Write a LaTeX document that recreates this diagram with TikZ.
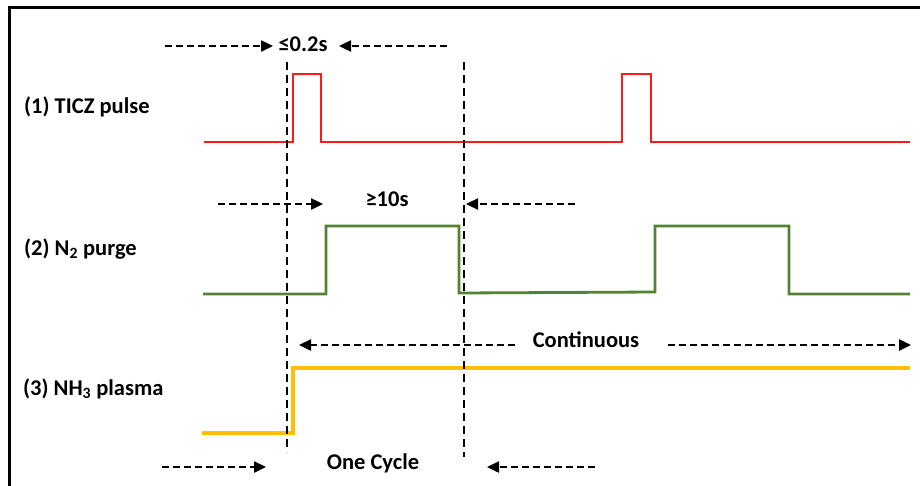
\documentclass[tikz,border=0pt]{standalone}
\usepackage{fontspec}
\setmainfont{Carlito}
\usetikzlibrary{arrows.meta}
\definecolor{pulsered}{HTML}{FF1A1A}
\definecolor{purgegreen}{HTML}{548235}
\definecolor{plasmayellow}{HTML}{FFC000}
\tikzset{
  lbl/.style={font=\fontsize{22.5}{26}\selectfont\bfseries, inner sep=0pt, anchor=west},
  note/.style={font=\fontsize{22.5}{26}\selectfont\bfseries, inner sep=0pt},
  darr/.style={black, line width=2.4pt, dash pattern=on 7pt off 4pt, -{Triangle[length=12pt,width=11pt]}},
  vdash/.style={black, line width=2.4pt, dash pattern=on 8pt off 5pt},
  redwave/.style={pulsered, line width=2.8pt},
  greenwave/.style={purgegreen, line width=2.8pt},
  yellowwave/.style={plasmayellow, line width=3.4pt},
  frame/.style={black, line width=3pt}
}
\begin{document}
\begin{tikzpicture}[x=1pt,y=-1pt]
\useasboundingbox (0,0) rectangle (920,485);
% frame (top and left visible)
\coordinate (fTL) at (9,7);
\coordinate (fTR) at (921,7);
\coordinate (fBL) at (9,486);
\draw[frame] (fBL) -- (fTL) -- (fTR);

% labels
\node[lbl] (l1) at (24,107) {(1) TICZ pulse};
\node[lbl] (l2) at (24,249) {(2) N\textsubscript{2} purge};
\node[lbl] (l3) at (23,389) {(3) NH\textsubscript{3} plasma};

% red waveform
\coordinate (r0) at (204,142);
\coordinate (r9) at (910,142);
\draw[redwave] (r0) -- (293,142) -- (293,74) -- (321,74) -- (321,142)
  -- (622,142) -- (622,74) -- (651,74) -- (651,142) -- (r9);

% green waveform
\coordinate (g0) at (203,294);
\coordinate (g9) at (910,294);
\draw[greenwave] (g0) -- (326,294) -- (326,226) -- (459,226) -- (459,293)
  -- (655,292) -- (655,226) -- (789,226) -- (789,294) -- (g9);

% yellow waveform
\coordinate (y0) at (202,433);
\coordinate (y9) at (910,368);
\draw[yellowwave] (y0) -- (293,433) -- (293,368) -- (y9);

% vertical dashed cycle markers
\coordinate (v1t) at (287,62);
\coordinate (v1b) at (287,452);
\coordinate (v2t) at (464,62);
\coordinate (v2b) at (464,457);
\draw[vdash] (v1t) -- (v1b);
\draw[vdash] (v2t) -- (v2b);

% row 1: <=0.2s
\node[note] (t1) at (303,44) {≤0.2s};
\coordinate (a1s) at (165,46);
\coordinate (a1e) at (273,46);
\coordinate (b1s) at (447,46);
\coordinate (b1e) at (339,46);
\draw[darr] (a1s) -- (a1e);
\draw[darr] (b1s) -- (b1e);

% row 2: >=10s
\node[note] (t2) at (387,199) {≥10s};
\coordinate (a2s) at (218,204);
\coordinate (a2e) at (323,204);
\coordinate (b2s) at (575,204);
\coordinate (b2e) at (466,204);
\draw[darr] (a2s) -- (a2e);
\draw[darr] (b2s) -- (b2e);

% row 3: Continuous
\node[note] (t3) at (586,340) {Continuous};
\coordinate (a3s) at (515,345);
\coordinate (a3e) at (299,345);
\coordinate (b3s) at (668,345);
\coordinate (b3e) at (911,345);
\draw[darr] (a3s) -- (a3e);
\draw[darr] (b3s) -- (b3e);

% row 4: One Cycle
\node[note] (t4) at (373,463) {One Cycle};
\coordinate (a4s) at (162,467);
\coordinate (a4e) at (266,467);
\coordinate (b4s) at (595,467);
\coordinate (b4e) at (487,467);
\draw[darr] (a4s) -- (a4e);
\draw[darr] (b4s) -- (b4e);
\end{tikzpicture}
\end{document}
